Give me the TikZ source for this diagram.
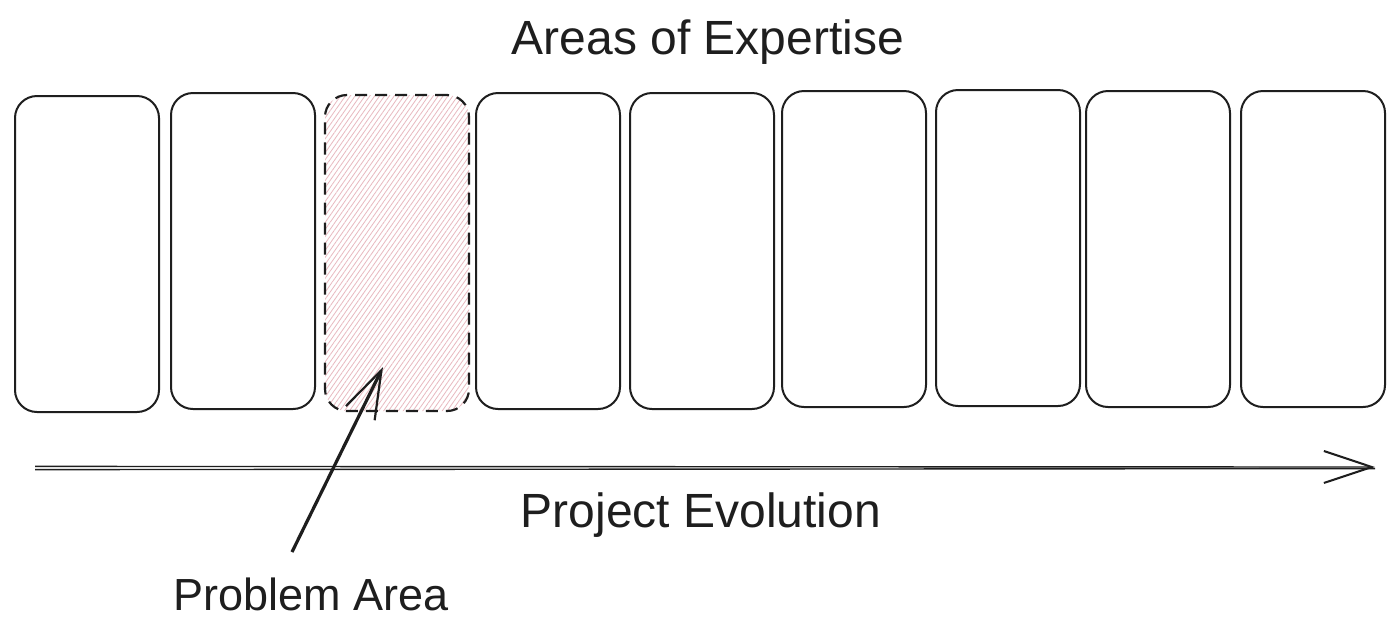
\documentclass[tikz,border=0pt]{standalone}
\usepackage{fontspec}
\setmainfont{Liberation Sans}
\usetikzlibrary{arrows.meta,patterns.meta}
\definecolor{hatchpink}{RGB}{232,185,192}
\definecolor{ink}{RGB}{30,30,30}
\tikzset{
  area/.style={draw=ink, line width=1pt, rounded corners=11pt, minimum width=72pt, minimum height=158pt, inner sep=0pt},
  problemarea/.style={area, line width=1.1pt, dash pattern=on 6pt off 4pt,
     pattern={Lines[angle=55,distance=2pt,line width=0.4pt]}, pattern color=hatchpink},
  label/.style={font=\fontsize{24}{28}\selectfont, text=ink},
  barb/.style={-{Straight Barb[length=24pt,width=16pt,line width=1.1pt]}},
}
\begin{document}
\begin{tikzpicture}[x=0.5pt,y=-0.5pt]
\useasboundingbox (0,0) rectangle (1400,638);
\fill[white] (0,0) rectangle (1400,638);
% boxes
\node[area] (b1) at (87,254) {};
\node[area] (b2) at (243,251) {};
\node[problemarea] (b3) at (397,253) {};
\node[area] (b4) at (548,251) {};
\node[area] (b5) at (702,251) {};
\node[area] (b6) at (854,249) {};
\node[area] (b7) at (1008,248) {};
\node[area] (b8) at (1158,249) {};
\node[area] (b9) at (1313,249) {};
% titles
\node[label] (title) at (708,42) {Areas of Expertise};
\node[label] (evo) at (701,515) {Project Evolution};
\node[label, font=\fontsize{22.5}{26}\selectfont] (prob) at (311,594) {Problem Area};
% evolution arrow
\coordinate (as) at (35,468);
\coordinate (ae) at (1375,467);
\draw[ink, line width=0.7pt] ([yshift=-0.8pt]as) -- ([yshift=-0.8pt]ae);
\draw[ink, line width=0.7pt, -{Straight Barb[length=24pt,width=16pt,line width=1pt]}] ([yshift=0.8pt]as) -- (ae);
% problem arrow
\coordinate (pt) at (292,552);
\coordinate (ph) at (383,367);
\draw[ink, line width=1.6pt, barb] (pt) -- (ph);
\end{tikzpicture}
\end{document}
